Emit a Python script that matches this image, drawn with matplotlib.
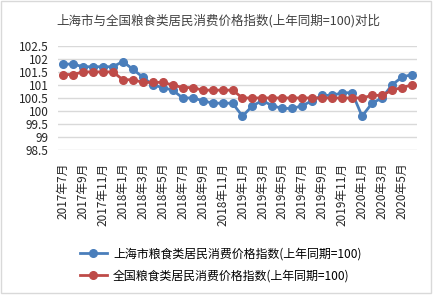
import matplotlib
matplotlib.use("Agg")
import matplotlib.pyplot as plt
from matplotlib.patches import Rectangle

plt.rcParams['font.family'] = ['Noto Sans CJK SC', 'DejaVu Sans']

# months 2017-07 .. 2020-06
months = [f"{y}年{m}月" for y, m in
          [(2017, m) for m in range(7, 13)] +
          [(2018, m) for m in range(1, 13)] +
          [(2019, m) for m in range(1, 13)] +
          [(2020, m) for m in range(1, 7)]]

shanghai = [101.8, 101.8, 101.7, 101.7, 101.7, 101.7,
            101.9, 101.6, 101.3, 101.0, 100.9, 100.8,
            100.5, 100.5, 100.4, 100.3, 100.3, 100.3,
            99.8, 100.2, 100.4, 100.2, 100.1, 100.1,
            100.2, 100.4, 100.6, 100.6, 100.7, 100.7,
            99.8, 100.3, 100.5, 101.0, 101.3, 101.4]

national = [101.4, 101.4, 101.5, 101.5, 101.5, 101.5,
            101.2, 101.2, 101.1, 101.1, 101.1, 101.0,
            100.9, 100.9, 100.8, 100.8, 100.8, 100.8,
            100.5, 100.5, 100.5, 100.5, 100.5, 100.5,
            100.5, 100.5, 100.5, 100.5, 100.5, 100.5,
            100.5, 100.6, 100.6, 100.8, 100.9, 101.0]

yticks = [98.5, 99, 99.5, 100, 100.5, 101, 101.5, 102, 102.5]
ytick_labels = ["98.5", "99", "99.5", "100", "100.5", "101", "101.5", "102", "102.5"]

title = "上海市与全国粮食类居民消费价格指数(上年同期=100)对比"
label_sh = "上海市粮食类居民消费价格指数(上年同期=100)"
label_cn = "全国粮食类居民消费价格指数(上年同期=100)"

fig = plt.figure(figsize=(4.37, 2.96), dpi=100)
ax = fig.add_axes([0.133, 0.493, 0.821, 0.352])

x = list(range(len(months)))
ax.plot(x, shanghai, color="#4A7EBB", lw=2, marker="o", ms=5.5, label=label_sh, zorder=3)
ax.plot(x, national, color="#BE4B48", lw=2, marker="o", ms=5.5, label=label_cn, zorder=3)

ax.set_xlim(-0.5, len(months) - 0.5)
ax.set_ylim(98.5, 102.5)
ax.set_yticks(yticks)
ax.set_yticklabels(ytick_labels, fontsize=8.5, color="#262626")
ax.set_xticks(x[::2])
ax.set_xticklabels(months[::2], rotation=90, fontsize=8.5, color="#262626")
ax.tick_params(axis="y", length=0, pad=7)
ax.tick_params(axis="x", length=0, pad=9)
ax.grid(axis="y", color="#D9D9D9", lw=1)
ax.set_axisbelow(True)
for s in ax.spines.values():
    s.set_visible(False)

fig.text(0.5, 0.929, title, ha="center", va="center", fontsize=9, color="#404040")

fig.legend(loc="center", bbox_to_anchor=(0.505, 0.106), frameon=False,
           fontsize=8.6, handlelength=2.3, handletextpad=0.5, labelspacing=0.75)

fig.patches.append(Rectangle((0.002, 0.01), 0.985, 0.985, transform=fig.transFigure,
                             fill=False, edgecolor="#D9D9D9", lw=1))

fig.savefig("out.png", dpi=100)
